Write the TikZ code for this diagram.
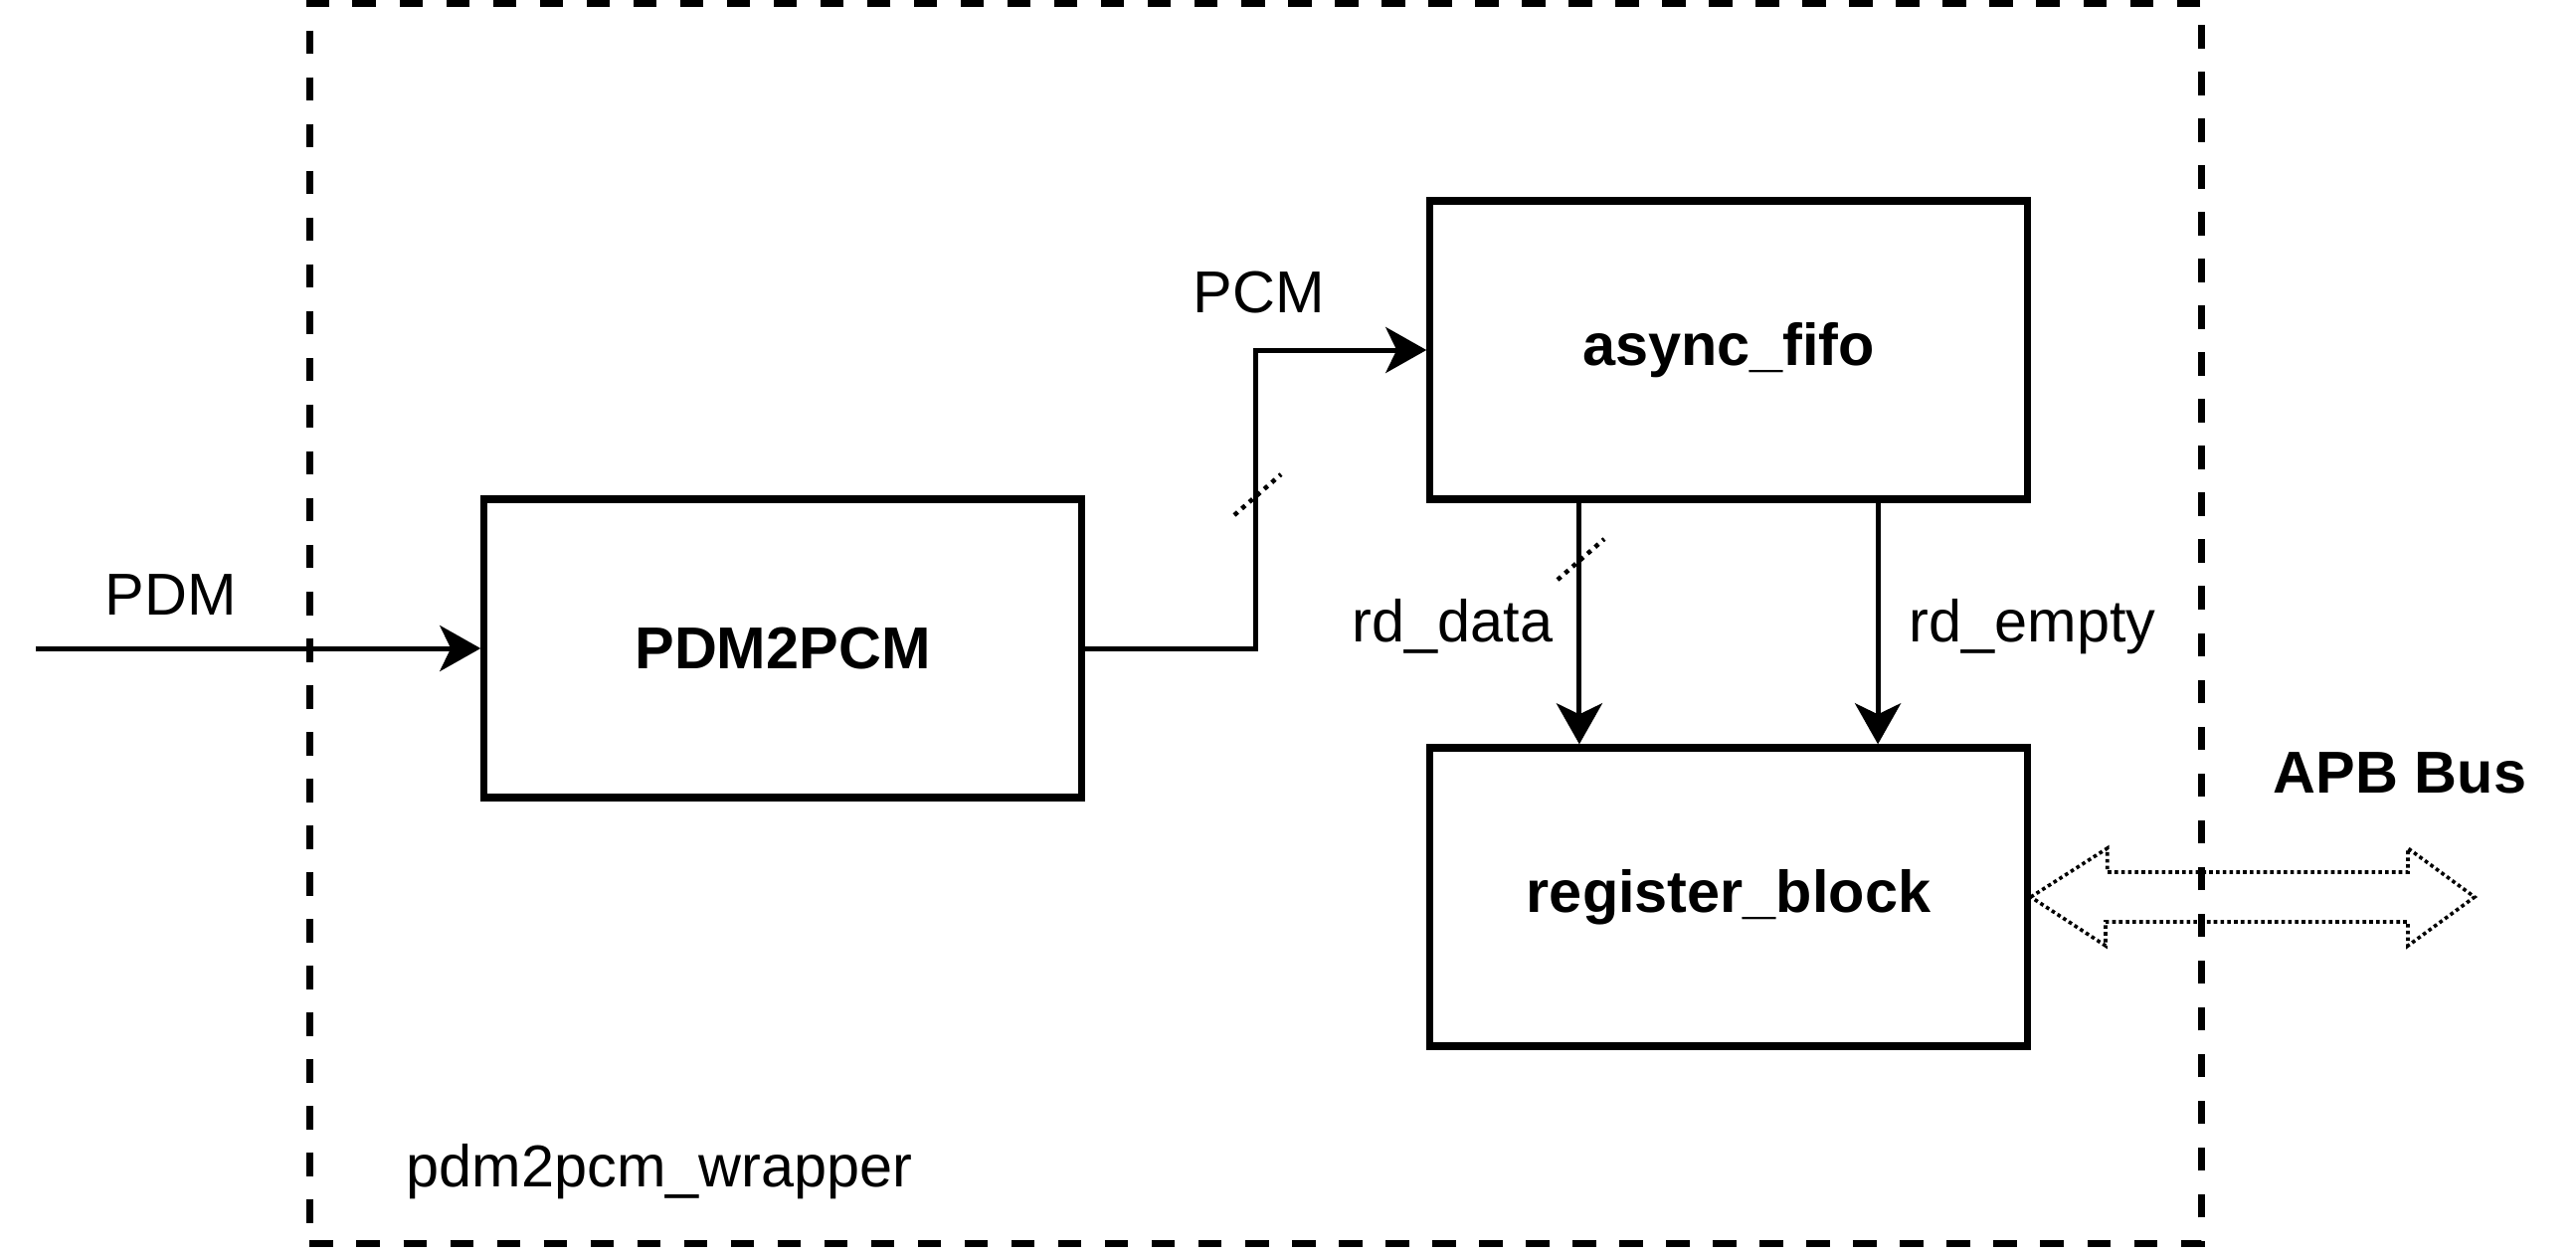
\documentclass[tikz,border=0pt]{standalone}
\usepackage{fontspec}
\setmainfont{Liberation Sans}
\usetikzlibrary{arrows.meta}
\newcommand{\lblfont}{\fontsize{16.9pt}{20pt}\selectfont}
\tikzset{
  blockbox/.style={draw, line width=0.072cm, minimum width=6cm, minimum height=3cm, inner sep=0pt, font=\lblfont\bfseries},
  wrapbox/.style={draw, line width=0.07cm, dash pattern=on 0.235cm off 0.235cm, minimum width=19.01cm, minimum height=12.465cm, inner sep=0pt},
  lbl/.style={font=\lblfont, inner sep=0pt},
  blbl/.style={font=\lblfont\bfseries, inner sep=0pt},
  arr/.style={line width=0.05cm, -{Stealth[length=0.41cm,width=0.46cm,inset=0.11cm]}},
  buswidth/.style={line width=0.045cm, dash pattern=on 0.045cm off 0.055cm},
  busarrow/.style={line width=0.036cm, dash pattern=on 0.036cm off 0.032cm, line join=miter},
}
\begin{document}
\begin{tikzpicture}[x=0.01cm, y=-0.01cm]
\useasboundingbox (0,0) rectangle (2590,1260);
% wrapper
\node[wrapbox] (wrap) at (1262.5,626.75) {};
\node[lbl] (wraplbl) at (663,1178) {pdm2pcm\_wrapper};
% blocks
\node[blockbox] (pdm) at (787,652) {PDM2PCM};
\node[blockbox] (fifo) at (1738,352) {async\_fifo};
\node[blockbox] (reg) at (1738,902) {register\_block};
% input
\coordinate (pdmin) at (36,652);
\draw[arr] (pdmin) -- (pdm.west);
\node[lbl] (pdmlbl) at (172,598) {PDM};
% PCM
\coordinate (bend) at (1262,652);
\draw[arr] (pdm.east) -- (bend) |- (fifo.west);
\node[lbl] (pcmlbl) at (1266,294) {PCM};
\coordinate (s1a) at (1241,518);
\coordinate (s1b) at (1288,477);
\draw[buswidth] (s1a) -- (s1b);
% rd_data / rd_empty
\draw[arr] ([xshift=-1.5cm]fifo.south) -- ([xshift=-1.5cm]reg.north);
\draw[arr] ([xshift=1.5cm]fifo.south) -- ([xshift=1.5cm]reg.north);
\coordinate (s2a) at (1566,583);
\coordinate (s2b) at (1613,542);
\draw[buswidth] (s2a) -- (s2b);
\node[lbl, anchor=base east] (rdd) at (1562,645) {rd\_data};
\node[lbl, anchor=base west] (rde) at (1919,645) {rd\_empty};
% APB bus
\node[blbl] (apb) at (2413,777) {APB Bus};
\coordinate (apbtip) at (2488,902);
\draw[busarrow] (reg.east) -- ++(77,-49) -- ++(0,24) -- (2421,877) -- (2421,853) -- (apbtip) -- (2421,951) -- (2421,927) -- (2117,927) -- (2117,951) -- cycle;
\end{tikzpicture}
\end{document}
